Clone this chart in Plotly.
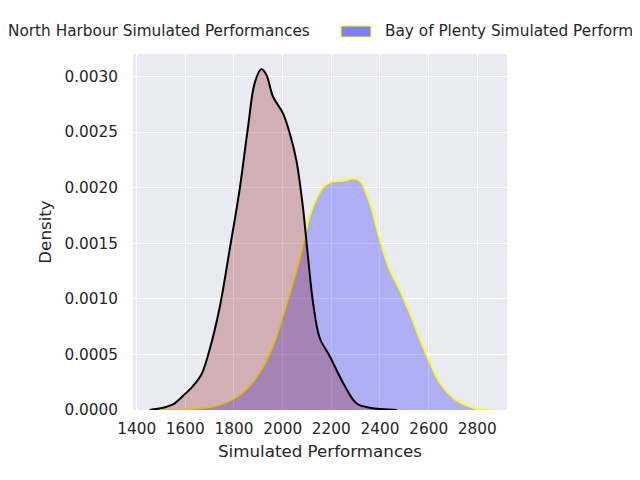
import plotly.graph_objects as go

# KDE curves (x = simulated performance, y = density)
nh_x = [1453, 1508, 1549, 1590, 1631, 1666, 1700, 1741, 1782, 1823, 1858, 1885,
        1912, 1933, 1960, 2001, 2029, 2056, 2083, 2104, 2125, 2152, 2193, 2248,
        2303, 2358, 2470]
nh_y = [0.0, 0.00002, 0.00005, 0.000126, 0.000215, 0.00032, 0.000545, 0.00092,
        0.00144, 0.00198, 0.00255, 0.00294, 0.003066, 0.003015, 0.00282, 0.00267,
        0.00249, 0.00225, 0.00183, 0.00138, 0.000964, 0.00065, 0.000485,
        0.000246, 0.00006, 0.00002, 0.0]

bop_x = [1480, 1600, 1714, 1782, 1851, 1905, 1960, 2001, 2042, 2077, 2097, 2125,
         2166, 2200, 2248, 2289, 2317, 2358, 2399, 2440, 2481, 2522, 2563, 2604,
         2645, 2700, 2755, 2796, 2858]
bop_y = [0.0, 0.000005, 0.00003, 0.00008, 0.000186, 0.000336, 0.000575, 0.000844,
         0.00114, 0.00142, 0.00162, 0.00183, 0.0020, 0.00205, 0.00206, 0.00208,
         0.00206, 0.00186, 0.00153, 0.00126, 0.00108, 0.00087, 0.00064, 0.00043,
         0.000246, 0.00011, 0.00004, 0.00001, 0.0]

x_ticks = [1400, 1600, 1800, 2000, 2200, 2400, 2600, 2800]
y_ticks = [0.0, 0.0005, 0.0010, 0.0015, 0.0020, 0.0025, 0.0030]

names = ["North Harbour Simulated Performances", "Bay of Plenty Simulated Performances"]

font = "DejaVu Sans"
ink = "#262626"

fig = go.Figure()

# Bay of Plenty first so North Harbour sits on top
fig.add_trace(go.Scatter(
    x=bop_x, y=bop_y, name=names[1],
    mode="lines", line=dict(color="yellow", width=1.6, shape="spline", smoothing=1.0),
    fill="tozeroy", fillcolor="rgba(0,0,255,0.25)",
))
fig.add_trace(go.Scatter(
    x=nh_x, y=nh_y, name=names[0],
    mode="lines", line=dict(color="black", width=2, shape="spline", smoothing=1.0),
    fill="tozeroy", fillcolor="rgba(135,0,0,0.25)",
))

# legend, drawn by hand (it runs off both edges of the canvas in the original)
# plot area is 374 px wide starting at x=133, 356 px tall ending at y=410
fig.add_annotation(xref="paper", yref="paper", x=(6 - 133) / 374, y=(410 - 31) / 356,
                   xanchor="left", yanchor="middle", showarrow=False,
                   text=names[0], font=dict(family=font, size=15.3, color=ink))
fig.add_annotation(xref="paper", yref="paper", x=(383 - 133) / 374, y=(410 - 31) / 356,
                   xanchor="left", yanchor="middle", showarrow=False,
                   text=names[1], font=dict(family=font, size=15.3, color=ink))
fig.add_shape(type="rect", xref="paper", yref="paper",
              x0=(341 - 133) / 374, x1=(371 - 133) / 374,
              y0=(410 - 26) / 356, y1=(410 - 37) / 356,
              fillcolor="rgba(0,0,255,0.5)", line=dict(color="yellow", width=1))

# page body has an 8px margin, so shift the plot up/left to compensate
fig.update_layout(
    width=640, height=480,
    margin=dict(l=125, r=141, t=46, b=78),
    paper_bgcolor="white",
    plot_bgcolor="#EAEAF2",
    showlegend=False,
    font=dict(family=font, size=15.3, color=ink),
)
fig.update_xaxes(
    range=[1385, 2922], tickvals=x_ticks, ticks="",
    gridcolor="white", gridwidth=1.3, zeroline=False, showline=False,
    ticklabelstandoff=8,
    title=dict(text="Simulated Performances", font=dict(size=16.7), standoff=8),
)
fig.update_yaxes(
    range=[0, 0.003202], tickvals=y_ticks, tickformat=".4f", ticks="",
    gridcolor="white", gridwidth=1.3, zeroline=False, showline=False,
    ticklabelstandoff=14,
    title=dict(text="Density", font=dict(size=16.7), standoff=8),
)

fig.write_html("out.html")
